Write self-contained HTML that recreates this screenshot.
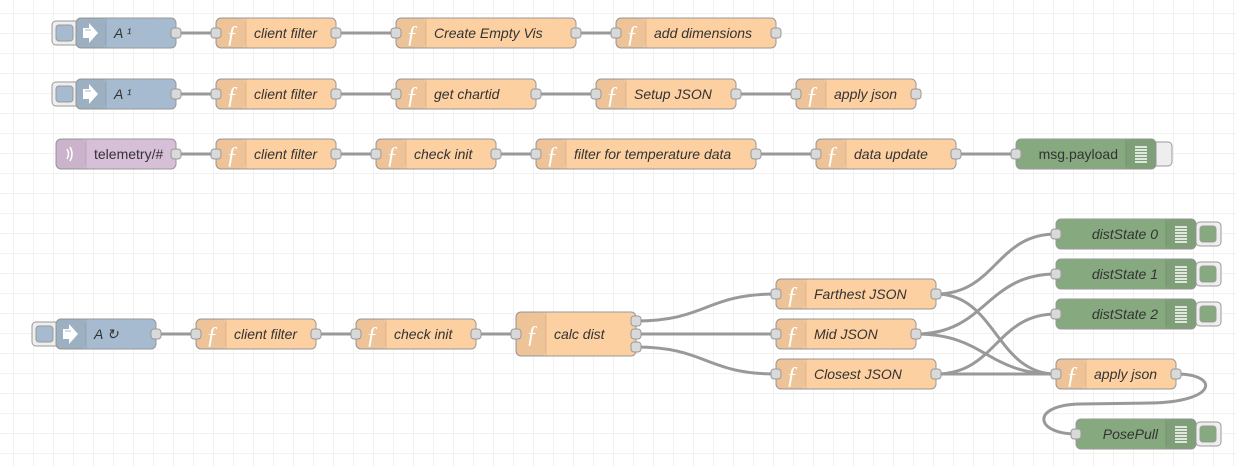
<!DOCTYPE html>
<html><head><meta charset="utf-8"><style>
body{margin:0;background:#fff;}
svg{display:block;font-family:"Liberation Sans",sans-serif;}
.g{stroke:#e4e4e4;stroke-width:1}
.w{fill:none;stroke:#999;stroke-width:3}
.n{stroke:#999;stroke-width:1}
.p{fill:#d9d9d9;stroke:#999;stroke-width:1}
.ic{fill:rgba(0,0,0,0.06)}
.sep{stroke:rgba(0,0,0,0.1)}
.t{font-size:14px;fill:#333;font-style:italic}
.tn{font-size:14px;fill:#333}
.f{font-family:"Liberation Serif",serif;font-style:italic;font-size:24px;fill:#fff}
.fn{fill:#fdd0a2}.in{fill:#a6bbcf}.db{fill:#87a980}.mq{fill:#d8bfd8}
</style></head><body>
<svg width="1236" height="466" viewBox="0 0 1236 466">
<defs>
<pattern id="grid" x="-6" y="-6" width="20" height="20" patternUnits="userSpaceOnUse">
<path d="M20 0 V20 M0 20 H20" class="g" fill="none"/>
</pattern>
<g id="fi"><rect x="0" y="0" width="30" height="30" rx="5" class="ic"/><line x1="30" y1="0" x2="30" y2="30" class="sep"/><text x="10" y="24" class="f">ƒ</text></g>
<g id="arr"><rect x="0" y="0" width="30" height="30" rx="5" class="ic"/><line x1="30" y1="0" x2="30" y2="30" class="sep"/><path d="M7 10 h6 v-5 l9 10 l-9 10 v-5 h-6z" fill="#fff"/><path d="M9 12 h6" stroke="#a6bbcf"/></g>
<g id="dbi"><rect x="0" y="0" width="30" height="30" rx="5" class="ic"/><line x1="0" y1="0" x2="0" y2="30" class="sep"/><path d="M9 8h12M9 11h12M9 14h12M9 17h12M9 20h12M9 23h12" stroke="#fff" stroke-width="1.5"/></g>
</defs>
<rect width="1236" height="466" fill="url(#grid)"/>

<g class="w">
<path d="M176 33H216M336 33H396M576 33H616"/>
<path d="M176 94H216M336 94H396M536 94H596M736 94H796"/>
<path d="M176 154H216M336 154H376M496 154H536M756 154H816M956 154H1016"/>
<path d="M156 334H196M316 334H356M476 334H516"/>
<path d="M636 321C706 321 706 294 776 294"/>
<path d="M636 334H776"/>
<path d="M636 347C706 347 706 374 776 374"/>
<path d="M936 294C996 294 996 234 1056 234"/>
<path d="M936 294C996 294 996 374 1056 374"/>
<path d="M916 334C986 334 986 274 1056 274"/>
<path d="M916 334C986 334 986 374 1056 374"/>
<path d="M936 374C996 374 996 314 1056 314"/>
<path d="M936 374H1056"/>
<path d="M1176 374C1220 374 1218 402 1150 403L1080 404C1030 405 1035 434 1076 434"/>
</g>

<rect x="52" y="21" width="28" height="24" rx="4" fill="#eee" stroke="#999"/>
<rect x="56" y="25" width="17" height="16" rx="3" fill="#a6bbcf" stroke="#999"/>
<rect x="76" y="18" width="100" height="30" rx="5" class="n in"/><use href="#arr" x="76" y="18"/>
<text x="114" y="38" class="t">A ¹</text>
<rect x="216" y="18" width="120" height="30" rx="5" class="n fn"/><use href="#fi" x="216" y="18"/><text x="254" y="38" class="t">client filter</text>
<rect x="396" y="18" width="180" height="30" rx="5" class="n fn"/><use href="#fi" x="396" y="18"/><text x="434" y="38" class="t">Create Empty Vis</text>
<rect x="616" y="18" width="160" height="30" rx="5" class="n fn"/><use href="#fi" x="616" y="18"/><text x="654" y="38" class="t">add dimensions</text>
<g class="p"><rect x="171" y="28" width="10" height="10" rx="3"/><rect x="211" y="28" width="10" height="10" rx="3"/><rect x="331" y="28" width="10" height="10" rx="3"/><rect x="391" y="28" width="10" height="10" rx="3"/><rect x="571" y="28" width="10" height="10" rx="3"/><rect x="611" y="28" width="10" height="10" rx="3"/><rect x="771" y="28" width="10" height="10" rx="3"/></g>

<rect x="52" y="82" width="28" height="24" rx="4" fill="#eee" stroke="#999"/>
<rect x="56" y="86" width="17" height="16" rx="3" fill="#a6bbcf" stroke="#999"/>
<rect x="76" y="79" width="100" height="30" rx="5" class="n in"/><use href="#arr" x="76" y="79"/>
<text x="114" y="99" class="t">A ¹</text>
<rect x="216" y="79" width="120" height="30" rx="5" class="n fn"/><use href="#fi" x="216" y="79"/><text x="254" y="99" class="t">client filter</text>
<rect x="396" y="79" width="140" height="30" rx="5" class="n fn"/><use href="#fi" x="396" y="79"/><text x="434" y="99" class="t">get chartid</text>
<rect x="596" y="79" width="140" height="30" rx="5" class="n fn"/><use href="#fi" x="596" y="79"/><text x="634" y="99" class="t">Setup JSON</text>
<rect x="796" y="79" width="120" height="30" rx="5" class="n fn"/><use href="#fi" x="796" y="79"/><text x="834" y="99" class="t">apply json</text>
<g class="p"><rect x="171" y="89" width="10" height="10" rx="3"/><rect x="211" y="89" width="10" height="10" rx="3"/><rect x="331" y="89" width="10" height="10" rx="3"/><rect x="391" y="89" width="10" height="10" rx="3"/><rect x="531" y="89" width="10" height="10" rx="3"/><rect x="591" y="89" width="10" height="10" rx="3"/><rect x="731" y="89" width="10" height="10" rx="3"/><rect x="791" y="89" width="10" height="10" rx="3"/><rect x="911" y="89" width="10" height="10" rx="3"/></g>

<rect x="56" y="139" width="120" height="30" rx="5" class="n mq"/>
<rect x="56" y="139" width="30" height="30" rx="5" class="ic"/><line x1="86" y1="139" x2="86" y2="169" class="sep"/>
<path d="M67 149q3 5 0 10M70 147q4 7 0 14" stroke="#fff" fill="none" stroke-width="1.5"/>
<text x="94" y="159" class="tn">telemetry/#</text>
<rect x="216" y="139" width="120" height="30" rx="5" class="n fn"/><use href="#fi" x="216" y="139"/><text x="254" y="159" class="t">client filter</text>
<rect x="376" y="139" width="120" height="30" rx="5" class="n fn"/><use href="#fi" x="376" y="139"/><text x="414" y="159" class="t">check init</text>
<rect x="536" y="139" width="220" height="30" rx="5" class="n fn"/><use href="#fi" x="536" y="139"/><text x="574" y="159" class="t">filter for temperature data</text>
<rect x="816" y="139" width="140" height="30" rx="5" class="n fn"/><use href="#fi" x="816" y="139"/><text x="854" y="159" class="t">data update</text>
<rect x="1152" y="142" width="20" height="24" rx="4" fill="#eee" stroke="#999"/>
<rect x="1016" y="139" width="140" height="30" rx="5" class="n db"/><use href="#dbi" x="1126" y="139"/>
<text x="1118" y="159" class="tn" text-anchor="end">msg.payload</text>
<g class="p"><rect x="171" y="149" width="10" height="10" rx="3"/><rect x="211" y="149" width="10" height="10" rx="3"/><rect x="331" y="149" width="10" height="10" rx="3"/><rect x="371" y="149" width="10" height="10" rx="3"/><rect x="491" y="149" width="10" height="10" rx="3"/><rect x="531" y="149" width="10" height="10" rx="3"/><rect x="751" y="149" width="10" height="10" rx="3"/><rect x="811" y="149" width="10" height="10" rx="3"/><rect x="951" y="149" width="10" height="10" rx="3"/><rect x="1011" y="149" width="10" height="10" rx="3"/></g>

<rect x="32" y="322" width="28" height="24" rx="4" fill="#eee" stroke="#999"/>
<rect x="36" y="326" width="17" height="16" rx="3" fill="#a6bbcf" stroke="#999"/>
<rect x="56" y="319" width="100" height="30" rx="5" class="n in"/><use href="#arr" x="56" y="319"/>
<text x="94" y="339" class="t">A ↻</text>
<rect x="196" y="319" width="120" height="30" rx="5" class="n fn"/><use href="#fi" x="196" y="319"/><text x="234" y="339" class="t">client filter</text>
<rect x="356" y="319" width="120" height="30" rx="5" class="n fn"/><use href="#fi" x="356" y="319"/><text x="394" y="339" class="t">check init</text>
<rect x="516" y="312" width="120" height="44" rx="5" class="n fn"/>
<rect x="516" y="312" width="30" height="44" rx="5" class="ic"/><line x1="546" y1="312" x2="546" y2="356" class="sep"/><text x="526" y="342" class="f">ƒ</text>
<text x="554" y="339" class="t">calc dist</text>
<rect x="776" y="279" width="160" height="30" rx="5" class="n fn"/><use href="#fi" x="776" y="279"/><text x="814" y="299" class="t">Farthest JSON</text>
<rect x="776" y="319" width="140" height="30" rx="5" class="n fn"/><use href="#fi" x="776" y="319"/><text x="814" y="339" class="t">Mid JSON</text>
<rect x="776" y="359" width="160" height="30" rx="5" class="n fn"/><use href="#fi" x="776" y="359"/><text x="814" y="379" class="t">Closest JSON</text>
<rect x="1056" y="359" width="120" height="30" rx="5" class="n fn"/><use href="#fi" x="1056" y="359"/><text x="1094" y="379" class="t">apply json</text>

<g>
<rect x="1196" y="222" width="25" height="24" rx="4" fill="#eee" stroke="#999"/><rect x="1200" y="226" width="16" height="16" rx="3" class="db" stroke="#999"/>
<rect x="1056" y="219" width="140" height="30" rx="5" class="n db"/><use href="#dbi" x="1166" y="219"/><text x="1158" y="239" class="t" text-anchor="end">distState 0</text>
<rect x="1196" y="262" width="25" height="24" rx="4" fill="#eee" stroke="#999"/><rect x="1200" y="266" width="16" height="16" rx="3" class="db" stroke="#999"/>
<rect x="1056" y="259" width="140" height="30" rx="5" class="n db"/><use href="#dbi" x="1166" y="259"/><text x="1158" y="279" class="t" text-anchor="end">distState 1</text>
<rect x="1196" y="302" width="25" height="24" rx="4" fill="#eee" stroke="#999"/><rect x="1200" y="306" width="16" height="16" rx="3" class="db" stroke="#999"/>
<rect x="1056" y="299" width="140" height="30" rx="5" class="n db"/><use href="#dbi" x="1166" y="299"/><text x="1158" y="319" class="t" text-anchor="end">distState 2</text>
<rect x="1196" y="422" width="25" height="24" rx="4" fill="#eee" stroke="#999"/><rect x="1200" y="426" width="16" height="16" rx="3" class="db" stroke="#999"/>
<rect x="1076" y="419" width="120" height="30" rx="5" class="n db"/><use href="#dbi" x="1166" y="419"/><text x="1158" y="439" class="t" text-anchor="end">PosePull</text>
</g>

<g class="p">
<rect x="151" y="329" width="10" height="10" rx="3"/><rect x="191" y="329" width="10" height="10" rx="3"/><rect x="311" y="329" width="10" height="10" rx="3"/><rect x="351" y="329" width="10" height="10" rx="3"/><rect x="471" y="329" width="10" height="10" rx="3"/><rect x="511" y="329" width="10" height="10" rx="3"/>
<rect x="631" y="316" width="10" height="10" rx="3"/><rect x="631" y="329" width="10" height="10" rx="3"/><rect x="631" y="342" width="10" height="10" rx="3"/>
<rect x="771" y="289" width="10" height="10" rx="3"/><rect x="931" y="289" width="10" height="10" rx="3"/>
<rect x="771" y="329" width="10" height="10" rx="3"/><rect x="911" y="329" width="10" height="10" rx="3"/>
<rect x="771" y="369" width="10" height="10" rx="3"/><rect x="931" y="369" width="10" height="10" rx="3"/>
<rect x="1051" y="229" width="10" height="10" rx="3"/><rect x="1051" y="269" width="10" height="10" rx="3"/><rect x="1051" y="309" width="10" height="10" rx="3"/>
<rect x="1051" y="369" width="10" height="10" rx="3"/><rect x="1171" y="369" width="10" height="10" rx="3"/>
<rect x="1071" y="429" width="10" height="10" rx="3"/>
</g>
</svg>
</body></html>
